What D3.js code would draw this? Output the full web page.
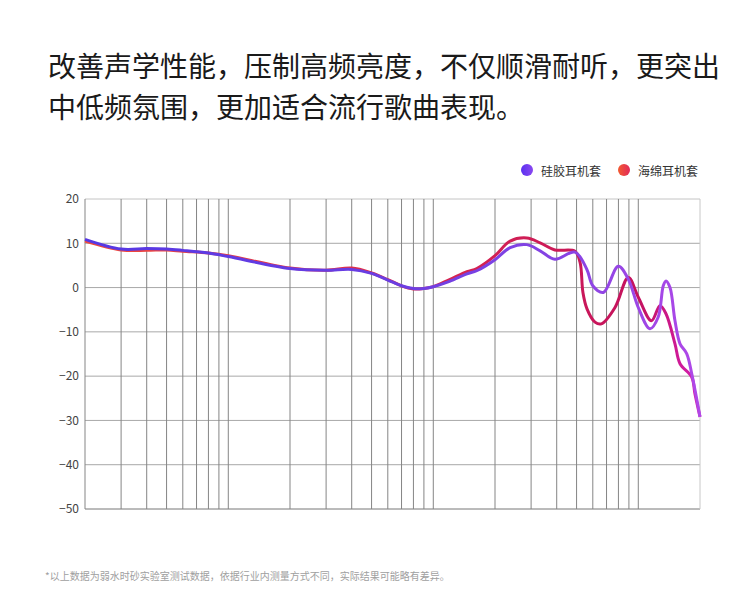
<!DOCTYPE html>
<html>
<head>
<meta charset="utf-8">
<script src="https://cdn.jsdelivr.net/npm/d3@7"></script>
<style>
  body { margin: 0; background: #fff; }
  svg { display: block; font-family: "Noto Sans CJK SC", "Noto Sans", sans-serif; }
</style>
</head>
<body>
<svg width="750" height="609"></svg>
<script>
const titleLines = ['改善声学性能，压制高频亮度，不仅顺滑耐听，更突出', '中低频氛围，更加适合流行歌曲表现。'];
const footnote = '*以上数据为弱水时砂实验室测试数据，依据行业内测量方式不同，实际结果可能略有差异。';
const seriesNames = ['硅胶耳机套', '海绵耳机套'];

const yTicks = [20, 10, 0, -10, -20, -30, -40, -50];
const freqGrid = [20, 30, 40, 50, 60, 70, 80, 90, 100, 200, 300, 400, 500, 600, 700, 800, 900,
  1000, 2000, 3000, 4000, 5000, 6000, 7000, 8000, 9000, 10000, 20000];

// silicone tips [Hz, dB]
const silicone = [
  [20, 10.9], [30, 8.7], [40, 8.8], [50, 8.7], [60, 8.4], [80, 7.8], [100, 7.0],
  [200, 4.3], [300, 3.9], [400, 4.1], [500, 3.2], [600, 1.7], [700, 0.4], [800, -0.2],
  [900, -0.2], [1000, 0.2], [1200, 1.4], [1460, 3.1], [1630, 3.8], [2000, 6.3],
  [2370, 9.0], [2860, 9.7], [3320, 8.3], [3920, 6.4], [4910, 8.0], [5600, 4.2],
  [6000, 0.4], [6750, -1.1], [7990, 4.8], [8940, 1.9], [10000, -4.5], [11400, -9.3],
  [12500, -6.7], [13240, 0.4], [13650, 1.5], [14280, 0], [15100, -7.5], [15980, -12.7],
  [17220, -14.9], [18220, -19.4], [20000, -29.2]
];

// foam tips [Hz, dB]
const foam = [
  [20, 10.5], [30, 8.5], [40, 8.4], [50, 8.5], [60, 8.2], [80, 7.8], [100, 7.2],
  [200, 4.4], [300, 3.9], [400, 4.4], [500, 3.3], [600, 1.8], [700, 0.4], [800, -0.3],
  [900, -0.2], [1000, 0.2], [1200, 1.8], [1460, 3.6], [1630, 4.3], [2000, 7.2],
  [2370, 10.5], [2860, 11.2], [3320, 10.1], [3920, 8.5], [4910, 8.2], [5200, 5.7],
  [5370, -1.1], [5620, -4.8], [6150, -7.8], [6600, -8.2], [7700, -4.5], [8940, 2.3],
  [10000, -2.2], [11600, -7.5], [12760, -4.1], [13650, -5.9], [15100, -12.7],
  [15980, -17.2], [18220, -20.2], [18900, -24], [20000, -29.2]
];

const svg = d3.select('svg');
const plotLeft = 85, plotRight = 700, plotTop = 199, plotBottom = 509;

const x = d3.scaleLog().domain([20, 20000]).range([plotLeft, plotRight]);
const y = d3.scaleLinear().domain([-50, 20]).range([plotBottom, plotTop]);

// title
svg.append('g')
    .selectAll('text')
    .data(titleLines)
    .join('text')
    .attr('x', 48)
    .attr('y', (d, i) => 77 + i * 41)
    .attr('font-size', 28)
    .attr('fill', '#1a1a1a')
    .text(d => d);

// gradients
const defs = svg.append('defs');
function addGradient(id, stops, units) {
  const g = defs.append('linearGradient').attr('id', id);
  if (units) {
    g.attr('gradientUnits', 'userSpaceOnUse')
        .attr('x1', plotLeft).attr('x2', plotRight).attr('y1', 0).attr('y2', 0);
  }
  stops.forEach(s => g.append('stop').attr('offset', s[0]).attr('stop-color', s[1]));
}
addGradient('lineSilicone', [[0, '#5638e4'], [0.5, '#6a3ee2'], [0.8, '#8a44e4'], [1, '#b048e8']], true);
addGradient('lineFoam', [[0, '#f04a3c'], [0.5, '#dc2a4c'], [0.9, '#c4125e'], [1, '#d41eb4']], true);
addGradient('dotSilicone', [[0, '#5a30f0'], [1, '#8a48f0']]);
addGradient('dotFoam', [[0, '#f25a30'], [1, '#e22a5a']]);

// legend
const legend = svg.append('g').attr('font-size', 12).attr('fill', '#333');
[[527, 'dotSilicone'], [624, 'dotFoam']].forEach((l, i) => {
  legend.append('circle').attr('cx', l[0]).attr('cy', 170).attr('r', 6)
      .attr('fill', `url(#${l[1]})`);
  legend.append('text').attr('x', l[0] + 14).attr('y', 170)
      .attr('dominant-baseline', 'central')
      .text(seriesNames[i]);
});

// grid
const grid = svg.append('g');
grid.selectAll('.h')
    .data(yTicks)
    .join('line')
    .attr('x1', plotLeft).attr('x2', plotRight)
    .attr('y1', d => y(d)).attr('y2', d => y(d))
    .attr('stroke', d => d === 20 ? '#c4c4c4' : (d === -50 ? '#777' : '#a8a8a8'))
    .attr('stroke-width', 1);
grid.selectAll('.v')
    .data(freqGrid)
    .join('line')
    .attr('x1', d => x(d)).attr('x2', d => x(d))
    .attr('y1', plotTop).attr('y2', plotBottom)
    .attr('stroke', d => d === 20000 ? '#c8c8c8' : '#858585')
    .attr('stroke-width', 1);

// y axis labels
const yAxis = d3.axisLeft(y).tickValues(yTicks).tickSize(0).tickPadding(6);
svg.append('g')
    .attr('transform', `translate(${plotLeft},0)`)
    .call(yAxis)
    .call(g => g.select('.domain').remove())
    .call(g => g.selectAll('text')
        .attr('font-size', 12)
        .attr('font-family', '"Noto Sans CJK SC", sans-serif')
        .attr('fill', '#444'));

// curves
const line = d3.line()
    .x(d => x(d[0]))
    .y(d => y(d[1]))
    .curve(d3.curveCatmullRom.alpha(0.5));

svg.append('path')
    .attr('d', line(foam))
    .attr('fill', 'none')
    .attr('stroke', 'url(#lineFoam)')
    .attr('stroke-width', 3);
svg.append('path')
    .attr('d', line(silicone))
    .attr('fill', 'none')
    .attr('stroke', 'url(#lineSilicone)')
    .attr('stroke-width', 3);

// footnote
svg.append('text')
    .attr('x', 45)
    .attr('y', 580)
    .attr('font-size', 10)
    .attr('fill', '#a0a0a0')
    .text(footnote);
</script>
</body>
</html>
